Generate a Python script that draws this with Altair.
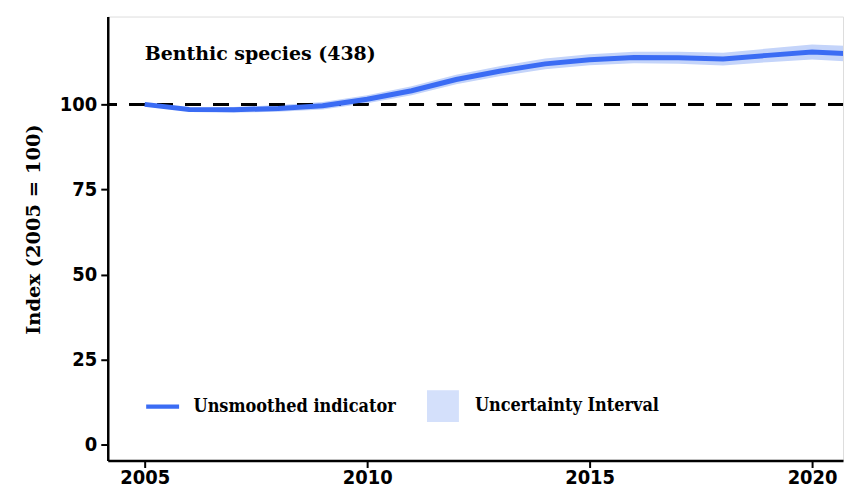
import altair as alt
import pandas as pd

years = list(range(2005, 2022))
index_values = [100.0, 98.5, 98.4, 98.8, 99.6, 101.5, 104.0, 107.3, 109.8, 111.9, 113.1, 113.8, 113.7, 113.3, 114.4, 115.4, 114.8]
lower_values = [100.0, 98.0, 97.6, 97.8, 98.5, 100.3, 102.7, 105.9, 108.3, 110.3, 111.5, 112.1, 111.9, 111.4, 112.4, 113.2, 112.5]
upper_values = [100.0, 99.0, 99.2, 99.8, 100.7, 102.7, 105.3, 108.7, 111.3, 113.5, 114.7, 115.5, 115.5, 115.2, 116.4, 117.6, 117.1]
series_name = "Unsmoothed indicator"
band_name = "Uncertainty Interval"
panel_title = "Benthic species (438)"
y_ticks = [0, 25, 50, 75, 100]
x_ticks = [2005, 2010, 2015, 2020]
baseline = 100

df = pd.DataFrame({
    "year": years,
    "value": index_values,
    "lower": lower_values,
    "upper": upper_values,
    "series": [series_name] * len(years),
    "band": [band_name] * len(years),
})
label_df = pd.DataFrame({"label": [panel_title]})

LINE = "#3b6cf4"
BAND = "#c4d4fa"
TICK_FONT = "DejaVu Sans Condensed"
SLAB = "DejaVu Serif"
SLAB_C = "DejaVu Serif Condensed"

x_scale = alt.Scale(domain=[2004.17, 2020.695], nice=False, zero=False)
y_scale = alt.Scale(domain=[-4.692, 125.81], nice=False, zero=False)

x_axis = alt.Axis(values=x_ticks, format="d", title=None, grid=False,
                  domainColor="black", domainWidth=2.5, tickColor="black",
                  tickWidth=2, tickSize=7, labelFont=TICK_FONT, labelFontSize=20,
                  labelFontWeight="bold", labelColor="black", labelPadding=0)
y_axis = alt.Axis(values=y_ticks, title="Index (2005 = 100)", grid=False,
                  domainColor="black", domainWidth=2.5, tickColor="black",
                  tickWidth=2, tickSize=7, labelFont=TICK_FONT, labelFontSize=20,
                  labelFontWeight="bold", labelColor="black", labelPadding=4,
                  titleFont=SLAB, titleFontSize=19.5, titleFontWeight="bold",
                  titleColor="black", titlePadding=16, titleY=213)

base = alt.Chart(df)

band = base.mark_area(clip=True).encode(
    x=alt.X("year:Q", scale=x_scale, axis=x_axis),
    y=alt.Y("lower:Q", scale=y_scale, axis=y_axis),
    y2="upper:Q",
    fill=alt.Fill("band:N", scale=alt.Scale(domain=[band_name], range=[BAND]),
                  legend=alt.Legend(title=None, orient="none", legendX=320, legendY=374.5,
                                    symbolType="square", symbolSize=1024,
                                    symbolStrokeWidth=0, symbolOpacity=0.72,
                                    labelOffset=16, padding=0, labelLimit=400,
                                    labelFont=SLAB_C, labelFontSize=18,
                                    labelFontWeight="bold", labelColor="black")),
)

rule = alt.Chart(df).mark_rule(color="black", strokeWidth=2.5, strokeDash=[15, 13]).encode(
    y=alt.datum(baseline, scale=y_scale)
)

line = base.mark_line(clip=True, strokeWidth=5).encode(
    x=alt.X("year:Q", scale=x_scale),
    y=alt.Y("value:Q", scale=y_scale),
    stroke=alt.Stroke("series:N", scale=alt.Scale(domain=[series_name], range=[LINE]),
                      legend=alt.Legend(title=None, orient="none", legendX=36, legendY=372,
                                        symbolType="stroke", symbolSize=1089,
                                        symbolStrokeWidth=4.5, labelOffset=12, padding=0,
                                        labelLimit=400,
                                        labelFont=SLAB_C, labelFontSize=18,
                                        labelFontWeight="bold", labelColor="black")),
)

text = alt.Chart(label_df).mark_text(align="left", baseline="middle", font=SLAB,
                                     fontSize=19, fontWeight="bold", color="black").encode(
    x=alt.value(37), y=alt.value(38), text="label:N"
)

chart = alt.layer(band, rule, line, text).resolve_scale(fill="independent", stroke="independent").properties(
    width=737, height=445,
    padding={"left": 15, "top": 8, "right": 0, "bottom": 0},
).configure_view(stroke=None).configure(background="white")

chart.save("out.html", embed_options={"renderer": "svg", "actions": False})
